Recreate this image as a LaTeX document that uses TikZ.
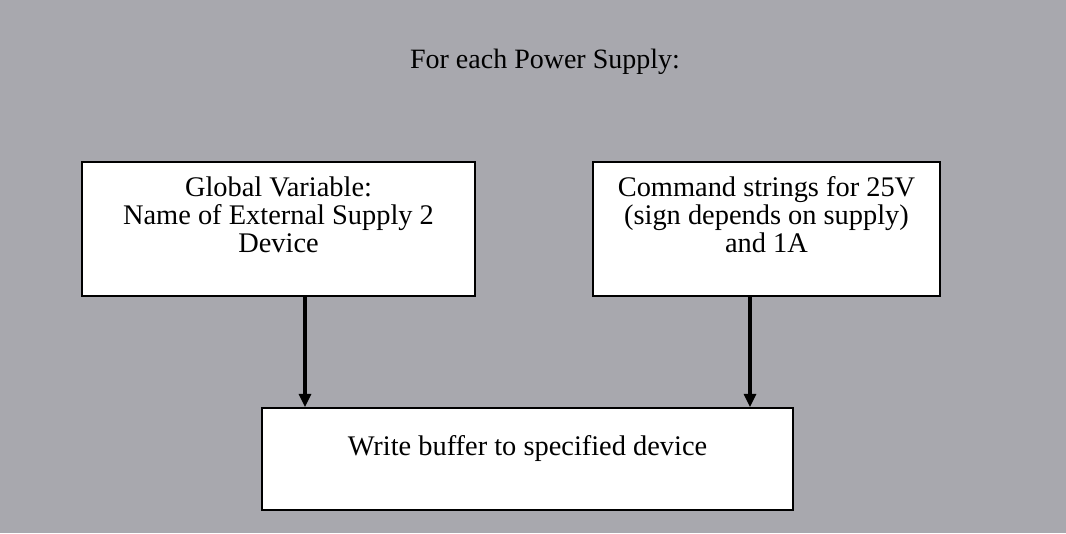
\documentclass[tikz,border=0pt]{standalone}
\usepackage{fontspec}
\setmainfont{Liberation Serif}
\usepackage{tikz}
\tikzset{x=.75pt,y=.75pt}
\usetikzlibrary{arrows.meta, positioning}
\definecolor{scangray}{RGB}{168,168,174}
\tikzset{
  box/.style={draw=black, line width=1.3pt, fill=white, align=center,
    inner sep=0pt, font=\fontsize{21.3}{21}\selectfont},
  feed/.style={line width=2.3pt, -{Triangle[length=10pt,width=9pt]}}
}

\begin{document}
\begin{tikzpicture}
    \fill[scangray] (0,0) rectangle (1066,533);
    \useasboundingbox (0,0) rectangle (1066,533);
    \node (title) at (545,471) {\fontsize{21}{21}\selectfont For each Power Supply:};
    % top row
    \node[box, minimum width=294.75pt, minimum height=100.5pt] (gv) at (278.5,304)
      {Global Variable:\\ Name of External Supply 2\\ Device\\ ~};
    \node[box, minimum width=260.25pt, minimum height=100.5pt] (cs) at (766.5,304)
      {Command strings for 25V\\ (sign depends on supply)\\ and 1A\\ ~};
    % bottom
    \node[box, minimum width=398.25pt, minimum height=76.5pt] (wb) at (527.5,74)
      {Write buffer to specified device\\ ~};
    % arrows
    \coordinate (xl) at (305,0);
    \coordinate (xr) at (750,0);
    \draw[feed] (gv.south -| xl) -- (wb.north -| xl);
    \draw[feed] (cs.south -| xr) -- (wb.north -| xr);
\end{tikzpicture}
\end{document}
